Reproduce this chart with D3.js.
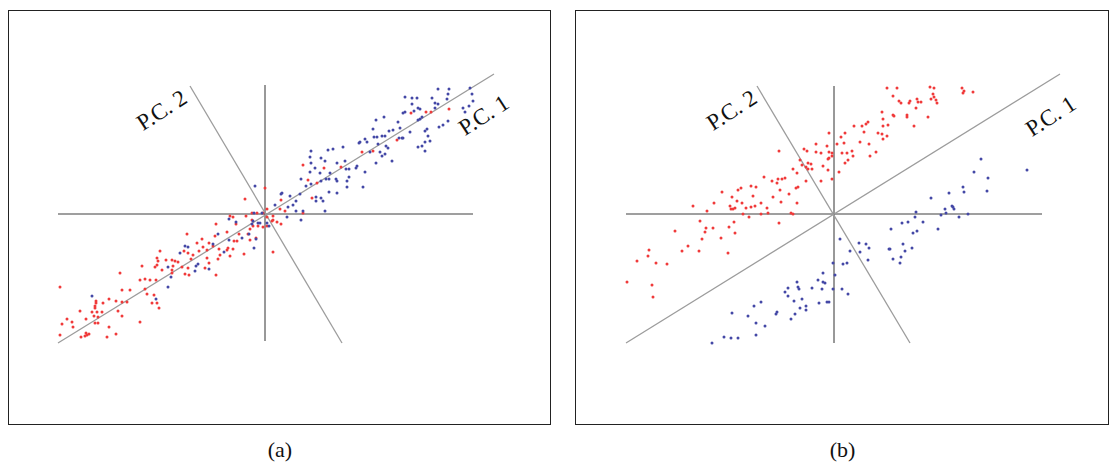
<!DOCTYPE html>
<html><head><meta charset="utf-8">
<script src="https://cdn.jsdelivr.net/npm/d3@7"></script>
<style>body{margin:0;background:#fff}svg{display:block}</style>
</head><body>
<script>
// ---- data (units relative to the origin of each panel) ----
const panelNames = ["(a)", "(b)"];
const pcLabels = ["P.C. 1", "P.C. 2"];

const redA = [[-105,-37],[-108,-44],[-107,-47],[-99,-46],[-108,-51],[-110,-53],[-123,-52],[-103,-56],[-145,-59],[-125,-66],[-120,-65],[-115,-66],[-109,-66],[-205,-73],[-143,-76],[-135,-76],[-120,-75],[-118,-80],[-111,-81],[-156,-85],[-169,-87],[-169,-89],[-162,-89],[-149,-87],[-143,-88],[-138,-88],[-108,-89],[-113,-89],[-106,-94],[-170,-92],[-170,-94],[-185,-97],[-173,-98],[-168,-98],[-163,-98],[-147,-97],[-171,-102],[-167,-103],[-179,-105],[-143,-102],[-198,-105],[-193,-108],[-170,-109],[-167,-109],[-125,-108],[-203,-110],[-192,-113],[-156,-113],[-205,-121],[-179,-119],[-178,-121],[-176,-120],[-180,-122],[-184,-123],[-149,-120],[-158,-123],
[-20,15],[2,5],[-35,-2],[-32,-3],[-19,-2],[-13,1],[-8,1],[-2,1],[2,-3],[8,-6],[12,-8],[-49,-10],[-29,-10],[2,-12],[-15,-15],[-78,-20],[-50,-22],[-38,-18],[-26,-20],[-17,-20],[-9,-24],[-63,-25],[-28,-27],[-31,-27],[-15,-26],[-68,-29],[-56,-29],[-62,-33],[-52,-32],[-32,-35],[-66,-37],[-58,-36],[-46,-35],[-38,-36],[-37,-34],[-81,-37],[-77,-39],[-72,-41],[-45,-41],[-35,-42],[-21,-40],[-93,-46],[-90,-47],[-87,-48],[-74,-45],[-58,-44],[-47,-45],[-56,-49],[-92,-52],[-83,-53],[-93,-56],[-77,-54],[-49,-61],[-93,-59],[-80,-60],[-76,-61],[-60,-54],[8,-38],
[38,49],[59,46],[76,47],[97,62],[43,34],[52,31],[47,16],[16,14],[20,3],[15,5],[38,1],[0,26],[8,-2],[7,-7],[16,-10],[-7,-12],[-2,-13],[-12,-12],[-13,-6],
[146,101],[161,102],[166,102],[184,105],[132,74],[108,63]];

const blueA = [[-173,-82],[-97,-53],[-97,-73],[-109,-85],
[-36,-5],[-29,-8],[-11,1],[-3,1],[10,9],[-12,-7],[-7,-9],[-5,-9],[-13,-10],[2,-9],[4,-12],[-47,-20],[-16,-20],[-23,-24],[-9,-25],[-36,-26],[-52,-30],[-80,-32],[-77,-33],[-85,-39],[-41,-38],[-11,-34],[-69,-52],[-67,-50],[-56,-55],[-70,-57],[-94,-63],
[94,71],[102,72],[78,67],[46,63],[63,64],[68,65],[45,57],[56,56],[60,53],[80,53],[72,51],[92,48],[91,46],[46,51],[50,46],[84,45],[81,45],[45,42],[100,42],[55,41],[65,41],[84,37],[36,35],[61,35],[64,35],[56,33],[71,35],[72,33],[82,33],[46,30],[41,28],[82,27],[98,27],[-10,28],[17,21],[16,20],[35,20],[64,22],[72,21],[25,18],[51,17],[56,16],[58,13],[51,13],[31,13],[28,9],[23,7],[38,3],[31,3],[60,3],[22,-3],[36,-6],
[173,125],[184,125],[205,126],[183,120],[140,117],[147,116],[152,116],[167,116],[182,115],[207,120],[208,113],[170,111],[173,110],[147,110],[153,106],[155,105],[140,102],[138,101],[149,103],[170,106],[198,106],[200,102],[204,108],[119,97],[111,94],[157,97],[155,95],[153,94],[133,92],[183,93],[174,87],[178,89],[162,85],[160,83],[128,84],[124,83],[135,86],[145,82],[108,85],[117,78],[109,77],[112,77],[120,78],[137,76],[138,76],[134,76],[163,78],[165,73],[160,72],[100,75],[95,72],[113,70],[121,68],[157,68],[153,67],[123,66],[105,62],[115,62],[117,58],[120,60],[160,63],[127,53],[111,51]];

const redB = [[-112,22],[-102,17],[-120,11],[-104,8],[-103,5],[-101,5],[-141,8],[-127,3],[-134,-7],[-100,-8],[-128,-14],[-121,-14],[-105,-13],[-129,-18],[-99,-19],[-159,-17],[-132,-25],[-113,-24],[-146,-32],[-152,-37],[-185,-36],[-135,-37],[-106,-39],[-186,-42],[-197,-47],[-178,-49],[-167,-50],[-207,-68],[-182,-71],[-181,-83],
[-5,81],[11,81],[7,77],[10,71],[3,70],[-7,68],[-18,70],[-5,62],[-18,62],[-13,61],[-2,61],[8,61],[13,61],[-55,63],[-30,65],[-27,63],[-2,58],[-5,56],[-6,55],[11,51],[14,54],[-26,51],[-23,50],[-32,49],[-11,48],[-28,47],[-26,45],[-41,45],[-34,54],[-22,45],[-6,44],[5,42],[-37,41],[-70,37],[-52,35],[-49,36],[-56,35],[-62,33],[-2,35],[-13,33],[-28,33],[-57,31],[-54,24],[-83,28],[-78,27],[-93,26],[-96,24],[-36,27],[-38,26],[-45,20],[-61,17],[-53,12],[-81,18],[-97,13],[-92,11],[-88,6],[-83,7],[-79,8],[-73,11],[-67,6],[-37,11],[-99,6],[-91,0],[-85,-3],[-73,0],[-66,1],[-43,1],[-41,0],[-55,-9],
[18,63],[19,58],[36,58],[42,62],
[53,126],[63,126],[96,127],[100,126],[128,126],[130,123],[129,121],[139,122],[59,118],[99,120],[100,117],[97,115],[102,114],[65,113],[67,111],[76,113],[75,111],[83,115],[84,112],[87,112],[103,111],[82,106],[48,102],[59,99],[60,98],[73,99],[73,97],[94,97],[49,95],[34,92],[32,90],[28,88],[54,89],[49,88],[20,88],[80,88],[44,81],[48,80],[30,82],[53,78],[49,75],[26,72],[35,70]];

const blueB = [[-1,-49],[1,-61],[9,-50],[13,-49],[-11,-59],[-16,-66],[-11,-68],[-9,-69],[-37,-68],[-46,-74],[-36,-73],[-35,-75],[-22,-74],[-12,-75],[-1,-75],[8,-75],[-49,-78],[-46,-82],[14,-80],[-40,-87],[-32,-85],[-15,-89],[-7,-88],[-5,-88],[-73,-88],[-80,-92],[-34,-94],[-28,-92],[-28,-96],[-57,-98],[-58,-100],[-39,-100],[-102,-99],[-86,-102],[-43,-105],[-78,-109],[-69,-112],[-110,-123],[-103,-124],[-96,-124],[-78,-121],[-122,-129],
[147,55],[193,44],[140,42],[154,36],[129,27],[130,22],[153,23],[115,21],[97,16],[118,8],[119,7],[120,5],[111,5],[112,1],[107,-1],[134,0],[125,-3],[82,2],[81,-3],[74,-8],[68,-9],[89,-8],[104,-15],[57,-15],[83,-17],[79,-19],[6,-25],[25,-29],[32,-30],[35,-34],[69,-30],[55,-35],[56,-35],[78,-34],[71,-37],[16,-37],[26,-38],[67,-43],[59,-45],[34,-46],[66,-49]];

// axis extents and principal-component lines (data units)
const axisA = {x:[-207,208], y:[-127,129]};
const axisB = {x:[-208,208], y:[-129,128]};
const pcA = [[[-207,-129],[229,140]], [[-75,128],[77,-129]]];
const pcB = [[[-208,-129],[226,140]], [[-77,128],[76,-129]]];
const pcLabelPosA = [[220,97],[-102,102]];
const pcLabelPosB = [[218,96],[-101,102]];

// ---- drawing ----
const W = 1111, H = 463;
const svg = d3.select("body").append("svg").attr("width", W).attr("height", H);

const panels = [
  {name: panelNames[0], box:[8,10,550,424], cx:265, cy:214, axis:axisA, pc:pcA, lab:pcLabelPosA, red:redA, blue:blueA},
  {name: panelNames[1], box:[575,10,1108,424], cx:834, cy:214, axis:axisB, pc:pcB, lab:pcLabelPosB, red:redB, blue:blueB}
];

panels.forEach(p => {
  const g = svg.append("g");
  const x = d3.scaleLinear().domain([0, 100]).range([p.cx, p.cx + 100]);
  const y = d3.scaleLinear().domain([0, 100]).range([p.cy, p.cy - 100]);

  g.append("rect").attr("x", p.box[0] + 0.5).attr("y", p.box[1] + 0.5)
    .attr("width", p.box[2] - p.box[0]).attr("height", p.box[3] - p.box[1])
    .attr("fill", "none").attr("stroke", "#222").attr("stroke-width", 1);

  // axes
  g.append("line").attr("x1", x(p.axis.x[0])).attr("x2", x(p.axis.x[1]))
    .attr("y1", y(0)).attr("y2", y(0)).attr("stroke", "#7f7f7f").attr("stroke-width", 1.5);
  g.append("line").attr("x1", x(0)).attr("x2", x(0))
    .attr("y1", y(p.axis.y[0])).attr("y2", y(p.axis.y[1])).attr("stroke", "#333").attr("stroke-width", 1);

  // PC lines
  p.pc.forEach(seg => {
    g.append("line").attr("x1", x(seg[0][0])).attr("y1", y(seg[0][1]))
      .attr("x2", x(seg[1][0])).attr("y2", y(seg[1][1]))
      .attr("stroke", "#9c9c9c").attr("stroke-width", 1.3);
  });

  // points
  g.selectAll("circle.r").data(p.red).join("circle").attr("class","r")
    .attr("cx", d => x(d[0])).attr("cy", d => y(d[1])).attr("r", 1.5).attr("fill", "#f03a3a");
  g.selectAll("circle.b").data(p.blue).join("circle").attr("class","b")
    .attr("cx", d => x(d[0])).attr("cy", d => y(d[1])).attr("r", 1.5).attr("fill", "#4448a6");

  // PC labels
  p.lab.forEach((pos, i) => {
    g.append("text").attr("transform", `translate(${x(pos[0])},${y(pos[1])}) rotate(-33)`)
      .attr("text-anchor", "middle").attr("dominant-baseline", "middle")
      .attr("font-family", "'Liberation Serif', 'Times New Roman', serif")
      .attr("font-size", 23).attr("fill", "#111").text(pcLabels[i]);
  });

  // caption
  g.append("text").attr("x", (p.box[0] + p.box[2]) / 2 + 1).attr("y", 457)
    .attr("text-anchor", "middle")
    .attr("font-family", "'Liberation Serif', 'Times New Roman', serif")
    .attr("font-size", 22).attr("fill", "#111").text(p.name);
});
</script>
</body></html>
